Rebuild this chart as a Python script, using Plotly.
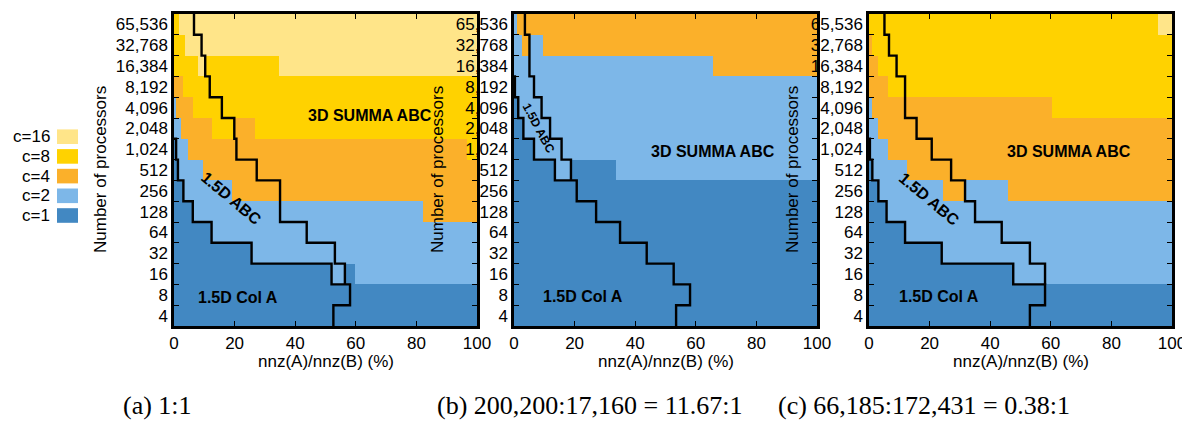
import math
import plotly.graph_objects as go

# ---------------- data ----------------
PROCS = [65536, 32768, 16384, 8192, 4096, 2048, 1024, 512, 256, 128, 64, 32, 16, 8, 4]  # top -> bottom
PROC_LABELS = [f"{p:,}" for p in PROCS]
X_TICKS = [0, 20, 40, 60, 80, 100]
C_VALUES = [16, 8, 4, 2, 1]
C_COLORS = {16: "#FFE589", 8: "#FFD200", 4: "#FBB02A", 2: "#7DB7E8", 1: "#4288C2"}

# best replication factor c per row (top -> bottom): list of (segment end in %, c)
A_CELLS = [
    [(1.5, 8), (100, 16)],
    [(3.6, 8), (100, 16)],
    [(7.9, 8), (10.2, 16), (34.5, 8), (100, 16)],
    [(3.0, 4), (100, 8)],
    [(0.8, 2), (6.3, 4), (100, 8)],
    [(2.3, 2), (12.5, 4), (20.1, 8), (26.8, 4), (100, 8)],
    [(0.7, 1), (4.6, 2), (96.6, 4), (100, 8)],
    [(1.3, 1), (9.5, 2), (100, 4)],
    [(3.1, 1), (19.0, 2), (100, 4)],
    [(6.2, 1), (82.3, 2), (100, 4)],
    [(12.4, 1), (100, 2)],
    [(25.6, 1), (100, 2)],
    [(52.0, 1), (56.4, 2), (59.7, 1), (100, 2)],
    [(100, 1)],
    [(100, 1)],
]
B_CELLS = [
    [(1.1, 2), (100, 4)],
    [(2.5, 2), (5.1, 4), (9.7, 2), (100, 4)],
    [(65.8, 2), (100, 4)],
    [(0.3, 1), (100, 2)],
    [(1.4, 1), (100, 2)],
    [(3.1, 1), (100, 2)],
    [(6.6, 1), (100, 2)],
    [(13.5, 1), (18.8, 2), (33.7, 1), (100, 2)],
    [(100, 1)],
    [(100, 1)],
    [(100, 1)],
    [(100, 1)],
    [(100, 1)],
    [(100, 1)],
    [(100, 1)],
]
C_CELLS = [
    [(95.5, 8), (100, 16)],
    [(1.1, 4), (100, 8)],
    [(3.1, 4), (100, 8)],
    [(6.2, 4), (100, 8)],
    [(1.1, 2), (60.3, 4), (100, 8)],
    [(3.1, 2), (100, 4)],
    [(0.3, 1), (6.2, 2), (100, 4)],
    [(1.1, 1), (12.4, 2), (100, 4)],
    [(3.1, 1), (24.5, 2), (31.7, 4), (46.0, 2), (100, 4)],
    [(5.8, 1), (100, 2)],
    [(11.9, 1), (100, 2)],
    [(24.0, 1), (100, 2)],
    [(47.6, 1), (100, 2)],
    [(100, 1)],
    [(100, 1)],
]

# algorithm boundaries: per-row crossover (%) starting at a given processor count
A_COLA_FROM, A_COLA_X = 1024, [0.7, 1.3, 3.1, 6.2, 12.4, 25.6, 52.0, 58.1, 52.6]
A_ABC_FROM, A_ABC_X = 65536, [6.6, 9.1, 10.3, 11.8, 15.8, 19.9, 20.6, 27.3, 35.0, 35.0, 43.8, 53.1, 56.4]
B_COLA_FROM, B_COLA_X = 8192, [0.3, 1.4, 3.1, 6.6, 13.5, 20.7, 27.1, 35.0, 43.8, 52.7, 58.1, 53.5]
B_ABC_FROM, B_ABC_X = 65536, [3.6, 5.1, 5.1, 6.6, 9.1, 11.9, 15.7, 18.8]
C_COLA_FROM, C_COLA_X = 1024, [0.3, 1.1, 3.1, 5.8, 11.9, 24.0, 47.6, 58.1, 53.1]
C_ABC_FROM, C_ABC_X = 65536, [5.1, 6.6, 9.1, 11.9, 11.9, 15.7, 20.7, 27.1, 31.7, 35.0, 43.8, 53.1, 58.1]

REGION_NAMES = ["3D SUMMA ABC", "1.5D ABC", "1.5D Col A"]
CAPTIONS = ["(a) 1:1", "(b) 200,200:17,160 = 11.67:1", "(c) 66,185:172,431 = 0.38:1"]

# ---------------- layout constants (page pixels) ----------------
PAGE_W, PAGE_H = 1190, 423
OFF = 8  # default body margin of the html page
FW, FH = PAGE_W - OFF, PAGE_H - OFF
SANS = "Liberation Sans, Arial, sans-serif"
SERIF = "Liberation Serif, Times New Roman, serif"
PANEL_X = [(174, 477), (514, 817), (869, 1172)]
PANEL_Y = (14, 326)
YTITLE_X = [100, 437, 792]
XTITLE_Y = 361
CAPTION_X = [157, 589, 924]
CAPTION_Y = 405
# region label placement per panel: (x %, row index from bottom, angle, size)
LABEL_POS = [
    [(64.7, 9.64, 0, 16), (19.0, 5.64, 40, 16), (21.2, 0.88, 0, 16)],
    [(65.8, 7.88, 0, 16), (8.0, 9.0, 62, 12), (22.9, 0.9, 0, 16)],
    [(65.9, 7.88, 0, 16), (20.1, 5.6, 40, 16), (23.1, 0.9, 0, 16)],
]


def px(x):
    return (x - OFF) / FW


def py(y):
    return 1 - (y - OFF) / FH


NROW = len(PROCS)
colorscale = []
for i, c in enumerate(sorted(C_VALUES)):
    colorscale.append([i / len(C_VALUES), C_COLORS[c]])
    colorscale.append([(i + 1) / len(C_VALUES), C_COLORS[c]])


def build_grid(rows):
    edges = sorted({0.0} | {float(e) for row in rows for e, _ in row})
    mids = [(edges[i] + edges[i + 1]) / 2 for i in range(len(edges) - 1)]
    z = []
    for row in reversed(rows):  # bottom -> top
        zr = []
        for m in mids:
            for end, c in row:
                if m < end:
                    zr.append(math.log2(c))
                    break
        z.append(zr)
    return edges, z


def step_line(first_proc, xs, from_left):
    r0 = PROCS.index(first_proc)
    lx, ly = [], []
    top0 = (NROW - 0.5) - r0
    if from_left:
        lx.append(0)
        ly.append(top0)
    for k, x in enumerate(xs):
        top = top0 - k
        lx += [x, x]
        ly += [top, top - 1]
    return lx, ly


def note(x, y, text, size, family=SANS, angle=0, xanchor="center", **kw):
    return dict(x=x, y=y, text=text, showarrow=False, textangle=angle, xanchor=xanchor,
                yanchor="middle", font=dict(family=family, size=size, color="black"), **kw)


fig = go.Figure()
panels = [
    (A_CELLS, (A_COLA_FROM, A_COLA_X), (A_ABC_FROM, A_ABC_X)),
    (B_CELLS, (B_COLA_FROM, B_COLA_X), (B_ABC_FROM, B_ABC_X)),
    (C_CELLS, (C_COLA_FROM, C_COLA_X), (C_ABC_FROM, C_ABC_X)),
]
yedges = [k - 0.5 for k in range(NROW + 1)]
annotations = []
for i, (cells, cola, abc) in enumerate(panels):
    sx = "" if i == 0 else str(i + 1)
    xr, yr = "x" + sx, "y" + sx
    xe, z = build_grid(cells)
    fig.add_trace(go.Heatmap(x=xe, y=yedges, z=z, colorscale=colorscale, zmin=-0.5, zmax=4.5,
                             showscale=False, hoverinfo="skip", xaxis=xr, yaxis=yr))
    for (first, xs), from_left in ((cola, True), (abc, False)):
        lx, ly = step_line(first, xs, from_left)
        fig.add_trace(go.Scatter(x=lx, y=ly, mode="lines", line=dict(color="black", width=2.4),
                                 hoverinfo="skip", showlegend=False, xaxis=xr, yaxis=yr))
    for name, (lxp, lyp, ang, fs) in zip(REGION_NAMES, LABEL_POS[i]):
        annotations.append(note(lxp, lyp, f"<b>{name}</b>", fs, angle=ang, xref=xr, yref=yr))
    x0, x1 = PANEL_X[i]
    fig.layout["xaxis" + sx] = dict(
        domain=[px(x0), px(x1)], range=[0, 100], tickvals=X_TICKS, ticks="inside", ticklen=5,
        tickwidth=1, tickcolor="black", showline=True, linewidth=2.5, linecolor="black",
        mirror="ticks", showgrid=False, zeroline=False, anchor=yr, ticklabeloverflow="allow",
        tickfont=dict(family=SANS, size=17, color="black"), automargin=False)
    fig.layout["yaxis" + sx] = dict(
        domain=[py(PANEL_Y[1]), py(PANEL_Y[0])], range=[-0.5, NROW - 0.5],
        tickvals=list(range(NROW)), ticktext=PROC_LABELS[::-1], ticks="",
        minor=dict(tickvals=[k + 0.5 for k in range(NROW - 1)], ticks="inside", ticklen=5,
                   tickwidth=1, tickcolor="black", showgrid=False),
        showline=True, linewidth=2.5, linecolor="black", mirror="ticks", showgrid=False,
        zeroline=False, anchor=xr, tickfont=dict(family=SANS, size=17, color="black"),
        automargin=False, ticklabeloverflow="allow")
    annotations.append(note(px(YTITLE_X[i]), py(sum(PANEL_Y) / 2), "Number of processors", 17,
                            angle=-90, xref="paper", yref="paper"))
    annotations.append(note(px((x0 + x1) / 2), py(XTITLE_Y), "nnz(A)/nnz(B) (%)", 17,
                            xref="paper", yref="paper"))
    annotations.append(note(px(CAPTION_X[i]), py(CAPTION_Y), CAPTIONS[i], 26, family=SERIF,
                            xref="paper", yref="paper"))

# legend (c values)
shapes = []
for k, c in enumerate(C_VALUES):
    yc = 136.7 + 19.7 * k
    shapes.append(dict(type="rect", xref="paper", yref="paper", x0=px(57), x1=px(78),
                       y0=py(yc + 7.3), y1=py(yc - 7.3), fillcolor=C_COLORS[c], line=dict(width=0)))
    annotations.append(note(px(52), py(yc), f"c={c}", 17, xanchor="right", xref="paper", yref="paper"))

fig.update_layout(width=FW, height=FH, margin=dict(l=0, r=0, t=0, b=0), paper_bgcolor="white",
                  plot_bgcolor="white", showlegend=False, annotations=annotations, shapes=shapes)
fig.write_html("out.html")
